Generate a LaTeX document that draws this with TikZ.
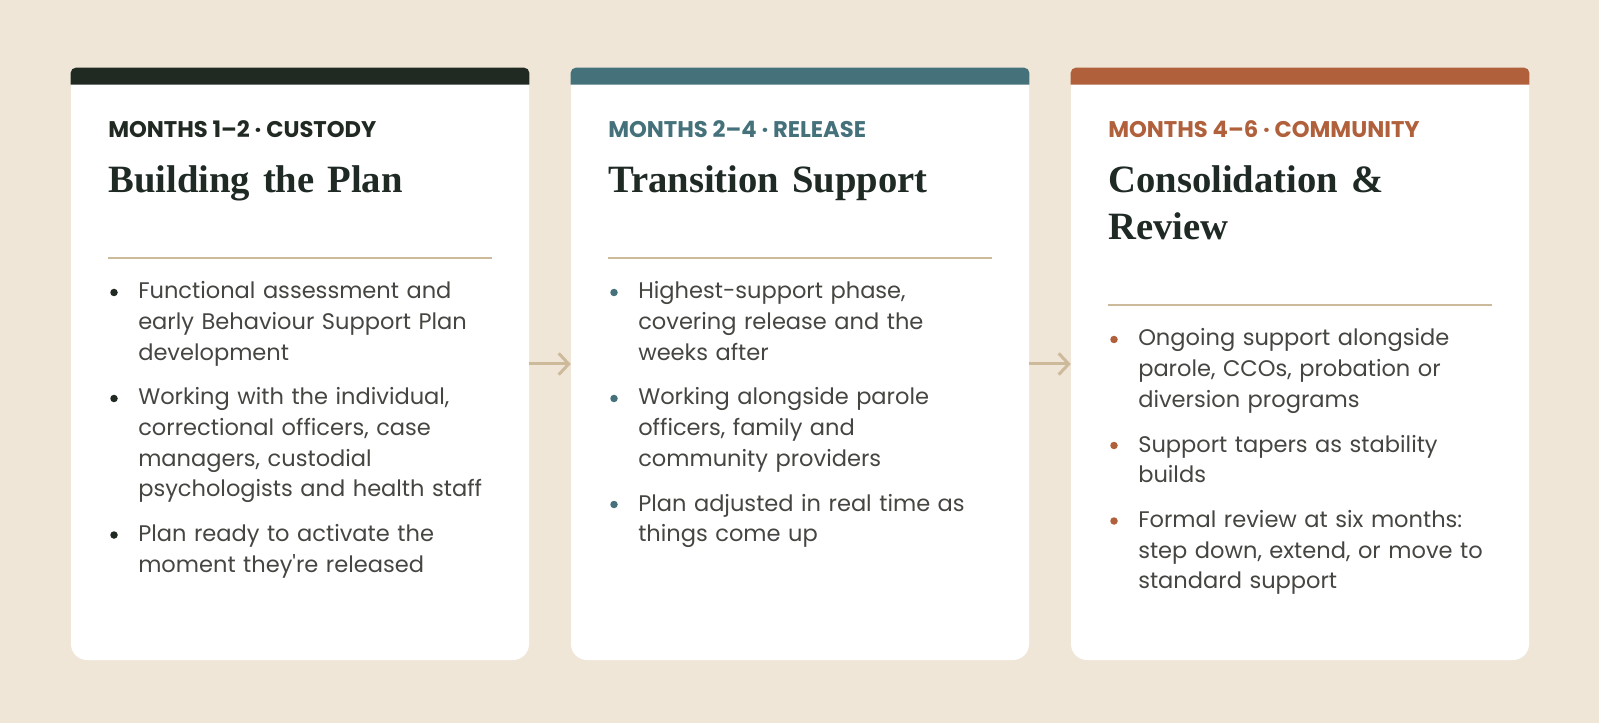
\documentclass[tikz,border=0pt]{standalone}
\usepackage{fontspec}
\usetikzlibrary{arrows.meta,calc}
\newfontfamily\bodyfont{Poppins}
\newfontfamily\headfont{Liberation Serif}
\definecolor{paper}{HTML}{EFE6D8}
\definecolor{inkA}{HTML}{212A22}
\definecolor{inkB}{HTML}{45717B}
\definecolor{inkC}{HTML}{B0603B}
\definecolor{rulecol}{HTML}{CDBA9A}
\definecolor{bodytext}{HTML}{454541}
\definecolor{headtext}{HTML}{1F2A24}

\begin{document}
\begin{tikzpicture}[x=0.75pt,y=0.75pt,
    card/.style={draw=none, fill=white, rounded corners=12pt, minimum width=343.5pt, minimum height=444pt, inner sep=0pt},
    phasetag/.style={anchor=base west, inner sep=0pt, font=\bodyfont\bfseries\fontsize{17}{20}\selectfont},
    phasetitle/.style={anchor=base west, inner sep=0pt, align=left, text width=290pt, text=headtext, font=\headfont\bfseries\fontsize{29}{35.25}\selectfont},
    itemtext/.style={anchor=base west, inner sep=0pt, align=left, text width=280pt, text=bodytext, font=\bodyfont\fontsize{16.9}{22.9}\selectfont},
    divider/.style={rulecol, line width=1.5pt},
    flow/.style={rulecol, line width=2.25pt, -{Straight Barb[length=7.5pt, width=16pt, line width=2.25pt]}}]

    % Fondo
    \fill[paper] (0,0) rectangle (1599,-723);
    \useasboundingbox (0,0) rectangle (1599,-723);

    % Tarjetas
    \node[card] (card1) at (300,-364) {};
    \node[card] (card2) at (800,-364) {};
    \node[card] (card3) at (1300,-364) {};

    % Barras superiores
    \fill[inkA] ($(card1.north west)+(0,-17)$) -- ++(0,12) arc (180:90:5) -- ($(card1.north east)+(-5,0)$) arc (90:0:5) -- ++(0,-12) -- cycle;
    \fill[inkB] ($(card2.north west)+(0,-17)$) -- ++(0,12) arc (180:90:5) -- ($(card2.north east)+(-5,0)$) arc (90:0:5) -- ++(0,-12) -- cycle;
    \fill[inkC] ($(card3.north west)+(0,-17)$) -- ++(0,12) arc (180:90:5) -- ($(card3.north east)+(-5,0)$) arc (90:0:5) -- ++(0,-12) -- cycle;

    % Flechas
    \draw[flow] (card1.east) -- (card2.west);
    \draw[flow] (card2.east) -- (card3.west);

    % Fase 1
    \node[phasetag, text=inkA] (tag1) at (108,-138) {MONTHS 1–2 · CUSTODY};
    \node[phasetitle] (title1) at (108,-193) {Building the Plan};
    \draw[divider] (108,-258) -- (492,-258);
    \node[itemtext] (c1a) at (138,-299) {Functional assessment and\\early Behaviour Support Plan\\development};
    \node[itemtext] (c1b) at (138,-405) {Working with the individual,\\correctional officers, case\\managers, custodial\\psychologists and health staff};
    \node[itemtext] (c1c) at (138,-541.5) {Plan ready to activate the\\moment they're released};
    \fill[inkA] (c1a.base west) ++(-24,6.5) circle (3.75);
    \fill[inkA] (c1b.base west) ++(-24,6.5) circle (3.75);
    \fill[inkA] (c1c.base west) ++(-24,6.5) circle (3.75);

    % Fase 2
    \node[phasetag, text=inkB] (tag2) at (608,-138) {MONTHS 2–4 · RELEASE};
    \node[phasetitle] (title2) at (608,-193) {Transition Support};
    \draw[divider] (608,-258) -- (992,-258);
    \node[itemtext] (c2a) at (638,-299) {Highest-support phase,\\covering release and the\\weeks after};
    \node[itemtext] (c2b) at (638,-405) {Working alongside parole\\officers, family and\\community providers};
    \node[itemtext] (c2c) at (638,-511) {Plan adjusted in real time as\\things come up};
    \fill[inkB] (c2a.base west) ++(-24,6.5) circle (3.75);
    \fill[inkB] (c2b.base west) ++(-24,6.5) circle (3.75);
    \fill[inkB] (c2c.base west) ++(-24,6.5) circle (3.75);

    % Fase 3
    \node[phasetag, text=inkC] (tag3) at (1108,-138) {MONTHS 4–6 · COMMUNITY};
    \node[phasetitle] (title3) at (1108,-193) {Consolidation \&\\Review};
    \draw[divider] (1108,-305) -- (1492,-305);
    \node[itemtext] (c3a) at (1138,-346) {Ongoing support alongside\\parole, CCOs, probation or\\diversion programs};
    \node[itemtext] (c3b) at (1138,-452) {Support tapers as stability\\builds};
    \node[itemtext] (c3c) at (1138,-527.5) {Formal review at six months:\\step down, extend, or move to\\standard support};
    \fill[inkC] (c3a.base west) ++(-24,6.5) circle (3.75);
    \fill[inkC] (c3b.base west) ++(-24,6.5) circle (3.75);
    \fill[inkC] (c3c.base west) ++(-24,6.5) circle (3.75);
\end{tikzpicture}
\end{document}
